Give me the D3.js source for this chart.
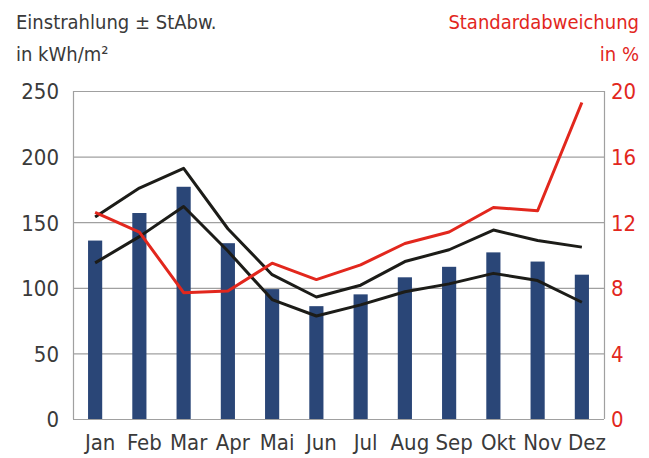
<!DOCTYPE html>
<html>
<head>
<meta charset="utf-8">
<script src="https://cdn.jsdelivr.net/npm/d3@7"></script>
<style>
  body { margin: 0; background: #fff; }
  svg text { font-family: 'DejaVu Sans Condensed', 'Liberation Sans Narrow', sans-serif; }
</style>
</head>
<body>
<svg id="chart" width="649" height="458"></svg>
<script>
const months = ['Jan', 'Feb', 'Mar', 'Apr', 'Mai', 'Jun', 'Jul', 'Aug', 'Sep', 'Okt', 'Nov', 'Dez'];
// mean irradiation, kWh/m2
const irradiation = [136, 157, 177, 134, 99, 86, 95, 108, 116, 127, 120, 110];
// mean + / - standard deviation
const upperBand = [154, 176, 191, 145, 110, 93, 102, 120, 129, 144, 136, 131];
const lowerBand = [119, 139, 162, 128, 91, 78.5, 87, 97, 103, 111, 105.5, 89];
// standard deviation in %
const stdDevPct = [12.6, 11.4, 7.7, 7.8, 9.5, 8.5, 9.4, 10.7, 11.4, 12.9, 12.7, 19.3];
const leftTicks = [0, 50, 100, 150, 200, 250];
const rightTicks = [0, 4, 8, 12, 16, 20];

const svg = d3.select('#chart');
const margin = { top: 91, right: 45, bottom: 39, left: 73 };
const width = 649, height = 458;

const x = d3.scaleBand()
  .domain(months)
  .range([margin.left, width - margin.right])
  .paddingInner(0.68)
  .paddingOuter(0.34);

const y = d3.scaleLinear().domain([0, 250]).range([height - margin.bottom, margin.top]);
const y2 = d3.scaleLinear().domain([0, 20]).range([height - margin.bottom, margin.top]);

const red = '#e2271d';
const textColor = '#3a3a3a';

// grid lines
svg.append('g')
  .selectAll('line')
  .data(leftTicks)
  .join('line')
  .attr('x1', margin.left)
  .attr('x2', width - margin.right)
  .attr('y1', (d) => y(d) + 0.5)
  .attr('y2', (d) => y(d) + 0.5)
  .attr('stroke', '#a0a0a0')
  .attr('stroke-width', 1.2);

// frame sides
svg.append('g')
  .selectAll('line')
  .data([margin.left, width - margin.right])
  .join('line')
  .attr('x1', (d) => d + 0.5)
  .attr('x2', (d) => d + 0.5)
  .attr('y1', margin.top)
  .attr('y2', height - margin.bottom)
  .attr('stroke', '#a0a0a0')
  .attr('stroke-width', 1.2);

// bars
svg.append('g')
  .selectAll('rect')
  .data(irradiation)
  .join('rect')
  .attr('x', (d, i) => x(months[i]))
  .attr('y', (d) => y(d))
  .attr('width', x.bandwidth())
  .attr('height', (d) => y(0) - y(d))
  .attr('fill', '#2a4677');

const cx = (d, i) => x(months[i]) + x.bandwidth() / 2;

const line = d3.line().x(cx).y((d) => y(d));
const line2 = d3.line().x(cx).y((d) => y2(d));

[upperBand, lowerBand].forEach((s) => {
  svg.append('path')
    .datum(s)
    .attr('fill', 'none')
    .attr('stroke', '#1c1c18')
    .attr('stroke-width', 3)
    .attr('stroke-linejoin', 'round')
    .attr('d', line);
});

svg.append('path')
  .datum(stdDevPct)
  .attr('fill', 'none')
  .attr('stroke', red)
  .attr('stroke-width', 3)
  .attr('stroke-linejoin', 'round')
  .attr('d', line2);

// left axis
const yAxis = (g) =>
  g
    .attr('transform', `translate(${margin.left - 14},0)`)
    .call(d3.axisLeft(y).tickValues(leftTicks).tickSize(0).tickPadding(0))
    .call((g) => g.select('.domain').remove())
    .call((g) =>
      g.selectAll('text')
        .attr('fill', textColor)
        .style('font-size', '22px')
        .attr('dy', '0.36em')
    );

svg.append('g').call(yAxis);

// right axis
const y2Axis = (g) =>
  g
    .attr('transform', `translate(${width - margin.right + 7},0)`)
    .call(d3.axisRight(y2).tickValues(rightTicks).tickSize(0).tickPadding(0))
    .call((g) => g.select('.domain').remove())
    .call((g) =>
      g.selectAll('text')
        .attr('fill', red)
        .style('font-size', '22px')
        .attr('dy', '0.36em')
    );

svg.append('g').call(y2Axis);

// x axis, labels sit a little right of the bars
const xAxis = (g) =>
  g
    .attr('transform', `translate(0,${height - margin.bottom})`)
    .call(d3.axisBottom(x).tickSize(0).tickPadding(15))
    .call((g) => g.select('.domain').remove())
    .call((g) =>
      g.selectAll('text')
        .attr('fill', textColor)
        .style('font-size', '22px')
        .attr('dx', 5)
        .attr('dy', '0.71em')
    );

svg.append('g').call(xAxis);

// titles
svg.append('text')
  .attr('x', 16)
  .attr('y', 29)
  .attr('fill', textColor)
  .style('font-size', '20px')
  .text('Einstrahlung ± StAbw.');

svg.append('text')
  .attr('x', 16)
  .attr('y', 61)
  .attr('fill', textColor)
  .style('font-size', '20px')
  .text('in kWh/m²');

svg.append('text')
  .attr('x', 639)
  .attr('y', 29)
  .attr('text-anchor', 'end')
  .attr('fill', red)
  .style('font-size', '20px')
  .text('Standardabweichung');

svg.append('text')
  .attr('x', 639)
  .attr('y', 61)
  .attr('text-anchor', 'end')
  .attr('fill', red)
  .style('font-size', '20px')
  .text('in %');
</script>
</body>
</html>
